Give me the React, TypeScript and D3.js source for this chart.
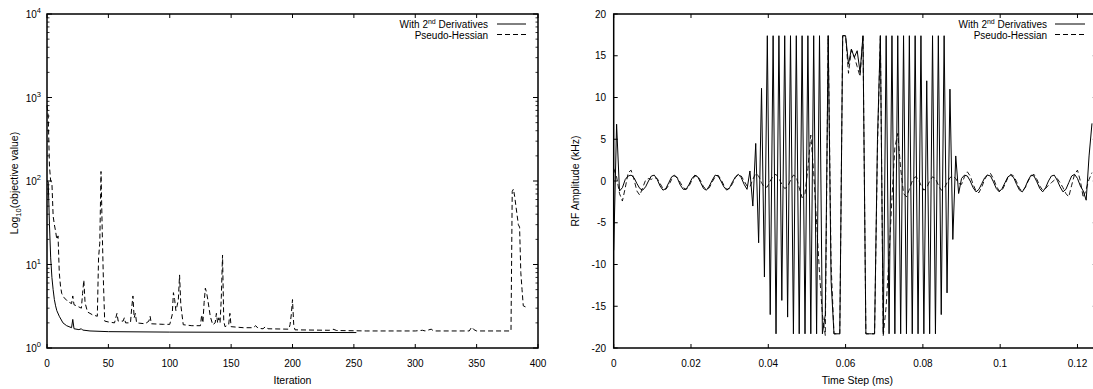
import React from 'react';
import * as d3 from 'd3';

// convergence (left panel): iteration / objective value
const iterSolid = [0, 1, 2, 3, 4, 5, 6, 7, 8, 10, 13, 16, 20, 21, 22, 26, 28, 29, 35, 50, 100, 252];
const objSolid = [100, 98, 30, 12, 7, 5, 3.8, 3.2, 2.8, 2.4, 2.0, 1.85, 1.75, 2.2, 1.7, 1.66, 1.7, 1.64, 1.6, 1.57, 1.55, 1.53];

const iterDashed = [
  0, 1, 2, 3, 4, 5, 6, 7, 8, 9, 10, 11, 12, 14, 17, 20, 21, 22, 26, 28, 29, 30, 31, 33, 37, 41, 42, 43, 44, 45, 46, 47,
  50, 55, 57, 58, 62, 63, 64, 68, 69, 70, 71, 72, 73, 80, 83, 84, 85, 95, 100, 102, 103, 104, 105, 106, 107, 108, 109,
  110, 111, 118, 125, 126, 127, 128, 129, 130, 131, 133, 135, 137, 138, 139, 140, 141, 142, 143, 144, 145, 148, 149,
  150, 160, 168, 170, 172, 176, 178, 180, 197, 198, 199, 200, 201, 202, 230, 233, 236, 260, 300, 306, 308, 313, 315,
  344, 346, 348, 350, 378, 379, 380, 381, 384, 385, 386, 387, 388, 392,
];
const objDashed = [
  800, 600, 150, 100, 95, 38, 30, 25, 20, 22, 8, 5.5, 4.5, 4.0, 3.6, 3.4, 4.2, 3.3, 3.1, 3.0, 4.5, 6.5, 3.5, 2.7, 2.5,
  2.4, 12, 18, 130, 25, 6, 2.1,
  2.05, 2.0, 2.6, 2.1, 2.1, 2.3, 2.0, 2.0, 3.0, 4.2, 2.3, 2.6, 2.0, 1.95, 2.1, 2.4, 1.95, 1.92, 1.92, 2.5, 4.6, 3.8,
  2.8, 3.2, 3.8, 7.5, 3.3,
  2.5, 1.9, 1.85, 1.85, 2.5, 2.0, 3.5, 5.2, 4.6, 3.8, 2.4, 1.9, 2.0, 2.6, 2.0, 2.3, 2.0, 4.0, 13, 2.1, 1.8, 1.9, 2.6,
  1.8, 1.75, 1.75, 1.85, 1.72, 1.7, 1.8, 1.7, 1.68, 1.9, 2.5, 3.8, 1.9, 1.65, 1.63, 1.68, 1.62, 1.6, 1.6, 1.63, 1.6,
  1.68, 1.6,
  1.6, 1.78, 1.65, 1.6, 1.6, 75, 80, 65, 30, 28, 8, 5, 3.2, 3.0,
];

// RF pulse (right panel): one value per time step, kHz
const rfStep = 0.00075; // ms
const rfSolid = [
  -8.3, 6.8, -1.2, -0.8, 0.2, 0.6, 0.7, 0.4, -0.3, -0.9, -1.1, -0.7, 0.0, 0.6, 0.7, 0.2, -0.6, -1.1, -0.9, -0.2,
  0.5, 0.7, 0.3, -0.5, -1.0, -1.0, -0.4, 0.3, 0.7, 0.5, -0.2, -0.9, -1.1, -0.6, 0.1, 0.7, 0.6, 0.0, -0.7, -1.1,
  -0.8, -0.1, 0.5, 0.8, 0.4, -0.4, -1.0, 1.2, -3.0, 4.5, -7.4, 11.1, -11.5, 17.4, -16.0, 17.4, -18.3, 17.4, -14.3, 17.4,
  -16.3, 17.4, -18.3, 17.4, -18.3, 17.4, -18.3, 17.4, -18.3, 17.4, -18.3, 17.4, -18.3, -16.0, 17.4, -12.0, -18.3, -18.3, -18.3, 17.4,
  17.4, 14.0, 15.8, 14.8, 15.6, 13.0, 17.4, -18.3, -18.3, -18.3, -18.3, 5.0, 17.4, -18.3, 17.4, -18.3, 17.4, -18.3, 17.4, -18.3,
  17.4, -18.3, 17.4, -18.3, 17.4, -18.3, 17.4, -18.3, 12.0, -18.3, 17.4, -18.3, 17.4, -16.0, 17.4, -13.4, 11.0, -7.0, 3.0, -1.5,
  0.3, 0.7, 0.6, 0.0, -0.8, -1.3, -1.0, -0.3, 0.4, 0.7, 0.6, -0.1, -0.9, -1.3, -0.9, -0.2, 0.5, 0.7, 0.4, -0.4,
  -1.1, -1.3, -0.7, 0.1, 0.7, 0.6, -0.1, -0.9, -1.3, -0.8, 0.0, 0.6, 0.7, 0.1, -0.7, -1.3, -1.0, -0.2, 0.6, 0.8,
  0.3, -0.6, -1.2, -2.3, 3.0, 6.9,
];
const rfDashed = [
  1.5, 0.5, -1.5, -2.4, -0.8, 1.0, 1.3, 0.2, -1.2, -1.7, -0.8, 0.1, 0.3, 0.2, 0.4, 0.3, -0.3, -0.9, -1.0, -0.5,
  0.2, 0.6, 0.4, -0.2, -0.8, -1.0, -0.6, 0.1, 0.6, 0.6, 0.0, -0.7, -1.0, -0.8, -0.1, 0.5, 0.7, 0.2, -0.5, -1.0,
  -0.9, -0.3, 0.4, 0.8, 0.6, 0.0, -0.6, -0.7, 0.2, 0.9, 0.6, -0.2, -0.8, -0.7, 0.0, 0.6, 0.8, 0.3, -0.4, -0.9,
  -0.7, 0.1, 0.7, 0.5, -0.8, -2.0, -1.5, 1.5, 5.5, 1.0, -5.0, -11.0, -16.0, -18.5, 17.4, -10.0, -18.3, -18.3, -18.3, 17.4,
  17.4, 12.9, 15.7, 14.9, 13.7, 12.5, 17.4, -18.3, -18.3, -18.3, -18.3, 4.0, 17.4, -18.5, -15.0, -9.0, -2.0, 4.0, 5.7, 1.5,
  -1.5, -1.9, -1.0, 0.0, 0.5, 0.3, -0.5, -1.1, -0.8, 0.0, 0.5, 0.3, -0.5, -1.1, -0.9, -0.2, 0.4, 0.6, 0.3, -0.3,
  -0.4, 0.5, 1.1, 0.6, -0.4, -1.2, -1.4, -0.7, 0.2, 0.8, 0.9, 0.3, -0.6, -1.2, -1.1, -0.4, 0.4, 0.8, 0.6, -0.1,
  -0.9, -1.2, -0.8, 0.0, 0.6, 0.8, 0.2, -0.6, -1.1, -0.9, -0.5, -0.2, 0.1, 0.3, -0.2, -0.8, -1.5, -1.9, -0.5, 0.8,
  1.3, 0.0, -2.0, -1.0, 0.2, 1.0,
];

const iterTicks = [0, 50, 100, 150, 200, 250, 300, 350, 400];
const decadeTicks = [0, 1, 2, 3, 4];
const timeTicks = [0, 0.02, 0.04, 0.06, 0.08, 0.1, 0.12];
const ampTicks = [-20, -15, -10, -5, 0, 5, 10, 15, 20];
const legendLabels = ['With 2', 'Pseudo-Hessian'];

const FONT = '"Liberation Sans", Arial, Helvetica, sans-serif';
const DASH = '5,3';

const top = 14;
const bottom = 348;

function Legend({ right, lineX0, lineX1 }: { right: number; lineX0: number; lineX1: number }) {
  return (
    <g fontSize={10} fill="#000">
      <text x={right} y={27.5} textAnchor="end">
        {legendLabels[0]}
        <tspan dy={-4} fontSize={7}>nd</tspan>
        <tspan dy={4}> Derivatives</tspan>
      </text>
      <line x1={lineX0} x2={lineX1} y1={24} y2={24} stroke="#000" strokeWidth={1} />
      <text x={right} y={38.5} textAnchor="end">{legendLabels[1]}</text>
      <line x1={lineX0} x2={lineX1} y1={34.5} y2={34.5} stroke="#000" strokeWidth={1} strokeDasharray={DASH} />
    </g>
  );
}

function LeftPanel() {
  const x = d3.scaleLinear().domain([0, 400]).range([47, 538]);
  const y = d3.scaleLog().domain([1, 1e4]).range([bottom, top]);
  const solidPath = d3.line<number>().x((_, i) => x(iterSolid[i])).y(v => y(v))(objSolid) || '';
  const dashedPath = d3.line<number>().x((_, i) => x(iterDashed[i])).y(v => y(v))(objDashed) || '';
  const minors: number[] = [];
  decadeTicks.slice(0, -1).forEach(k => {
    for (let m = 2; m <= 9; m++) minors.push(m * Math.pow(10, k));
  });
  const [x0, x1] = x.range();
  return (
    <g fontFamily={FONT}>
      <path d={solidPath} fill="none" stroke="#000" strokeWidth={1} />
      <path d={dashedPath} fill="none" stroke="#000" strokeWidth={1} strokeDasharray={DASH} />
      {iterTicks.map(t => (
        <g key={t}>
          <line x1={x(t)} x2={x(t)} y1={bottom} y2={bottom - 4} stroke="#000" />
          <line x1={x(t)} x2={x(t)} y1={top} y2={top + 4} stroke="#000" />
          <text x={x(t)} y={367} textAnchor="middle" fontSize={10}>{t}</text>
        </g>
      ))}
      {decadeTicks.map(k => (
        <g key={k}>
          <line x1={x0} x2={x0 + 5} y1={y(Math.pow(10, k))} y2={y(Math.pow(10, k))} stroke="#000" />
          <line x1={x1} x2={x1 - 5} y1={y(Math.pow(10, k))} y2={y(Math.pow(10, k))} stroke="#000" />
          <text x={41} y={y(Math.pow(10, k)) + 4} textAnchor="end" fontSize={10}>
            10<tspan dy={-5} fontSize={7.5}>{k}</tspan>
          </text>
        </g>
      ))}
      {minors.map(v => (
        <g key={v}>
          <line x1={x0} x2={x0 + 2.5} y1={y(v)} y2={y(v)} stroke="#000" strokeWidth={0.8} />
          <line x1={x1} x2={x1 - 2.5} y1={y(v)} y2={y(v)} stroke="#000" strokeWidth={0.8} />
        </g>
      ))}
      <rect x={x0} y={top} width={x1 - x0} height={bottom - top} fill="none" stroke="#000" strokeWidth={1.5} />
      <text x={(x0 + x1) / 2} y={384} textAnchor="middle" fontSize={10.5}>Iteration</text>
      <text transform={`translate(18, ${(top + bottom) / 2 + 2}) rotate(-90)`} textAnchor="middle" fontSize={10.5}>
        Log<tspan dy={3} fontSize={7.5}>10</tspan>
        <tspan dy={-3}>(objective value)</tspan>
      </text>
      <Legend right={488} lineX0={497} lineX1={526} />
    </g>
  );
}

function RightPanel() {
  const x = d3.scaleLinear().domain([0, 0.125]).range([613.7, 1096.8]);
  const y = d3.scaleLinear().domain([-20, 20]).range([bottom, top]);
  const rf = d3.line<number>().x((_, i) => x(i * rfStep)).y(v => y(v));
  const [x0, x1] = x.range();
  return (
    <g fontFamily={FONT}>
      <path d={rf(rfDashed) || ''} fill="none" stroke="#000" strokeWidth={0.9} strokeDasharray={DASH} />
      <path d={rf(rfSolid) || ''} fill="none" stroke="#000" strokeWidth={1} />
      {timeTicks.map(t => (
        <g key={t}>
          <line x1={x(t)} x2={x(t)} y1={bottom} y2={bottom - 4} stroke="#000" />
          <line x1={x(t)} x2={x(t)} y1={top} y2={top + 4} stroke="#000" />
          <text x={x(t)} y={367} textAnchor="middle" fontSize={10}>{t}</text>
        </g>
      ))}
      {ampTicks.map(v => (
        <g key={v}>
          <line x1={x0} x2={x0 + 4} y1={y(v)} y2={y(v)} stroke="#000" />
          <line x1={x1} x2={x1 - 4} y1={y(v)} y2={y(v)} stroke="#000" />
          <text x={606} y={y(v) + 3.5} textAnchor="end" fontSize={10}>{v}</text>
        </g>
      ))}
      <rect x={x0} y={top} width={x1 - x0} height={bottom - top} fill="none" stroke="#000" strokeWidth={1.5} />
      <text x={(x0 + 1093) / 2 + 4} y={384} textAnchor="middle" fontSize={10.5}>Time Step (ms)</text>
      <text transform={`translate(579, ${(top + bottom) / 2}) rotate(-90)`} textAnchor="middle" fontSize={10.5}>
        RF Amplitude (kHz)
      </text>
      <Legend right={1047} lineX0={1055} lineX1={1085} />
    </g>
  );
}

export default function App() {
  return (
    <div style={{ position: 'absolute', left: 0, top: 0, width: 1093, height: 389, background: '#fff', overflow: 'hidden' }}>
      <svg width={1093} height={389} style={{ display: 'block' }}>
        <rect width={1093} height={389} fill="#fff" />
        <LeftPanel />
        <RightPanel />
      </svg>
    </div>
  );
}
